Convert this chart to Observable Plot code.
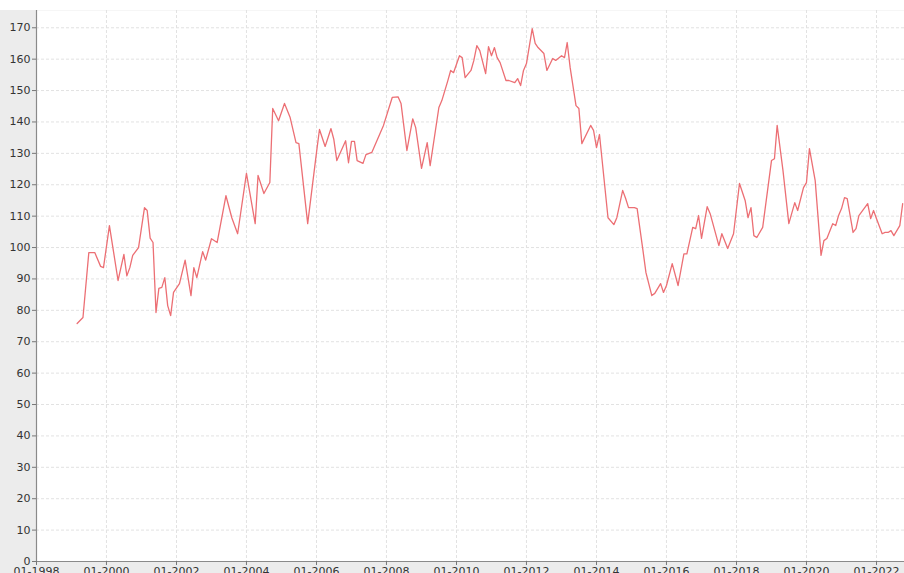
<!DOCTYPE html>
<html>
<head>
<meta charset="utf-8">
<script src="https://cdn.jsdelivr.net/npm/d3@7"></script>
<script src="https://cdn.jsdelivr.net/npm/@observablehq/plot@0.6"></script>
<style>
  html, body { margin: 0; padding: 0; background: #ececec; }
  #chart svg { display: block; }
</style>
</head>
<body>
<div id="chart"></div>
<script>
// Month of each reading (YYYY-MM) and its value
const dates = [
  "1999-03","1999-05","1999-07","1999-09","1999-11","1999-12","2000-02","2000-05","2000-07","2000-08",
  "2000-09","2000-10","2000-12","2001-02","2001-03","2001-04","2001-05","2001-06","2001-07","2001-08",
  "2001-09","2001-10","2001-11","2001-12","2002-02","2002-04","2002-06","2002-07","2002-08","2002-10",
  "2002-11","2003-01","2003-03","2003-06","2003-08","2003-10","2004-01","2004-04","2004-05","2004-07",
  "2004-09","2004-10","2004-12","2005-02","2005-04","2005-06","2005-07","2005-10","2006-01","2006-02",
  "2006-04","2006-06","2006-07","2006-08","2006-11","2006-12","2007-01","2007-02","2007-03","2007-05",
  "2007-06","2007-08","2007-12","2008-03","2008-05","2008-06","2008-08","2008-10","2008-11","2009-01",
  "2009-03","2009-04","2009-07","2009-08","2009-10","2009-11","2009-12","2010-02","2010-03","2010-04",
  "2010-06","2010-07","2010-08","2010-09","2010-11","2010-12","2011-01","2011-02","2011-03","2011-04",
  "2011-06","2011-07","2011-09","2011-10","2011-11","2011-12","2012-01","2012-03","2012-04","2012-05",
  "2012-07","2012-08","2012-10","2012-11","2013-01","2013-02","2013-03","2013-04","2013-06","2013-07",
  "2013-08","2013-11","2013-12","2014-01","2014-02","2014-05","2014-07","2014-08","2014-10","2014-11",
  "2014-12","2015-02","2015-03","2015-05","2015-06","2015-08","2015-09","2015-11","2015-12","2016-01",
  "2016-03","2016-05","2016-07","2016-08","2016-10","2016-11","2016-12","2017-01","2017-03","2017-04",
  "2017-07","2017-08","2017-10","2017-12","2018-02","2018-04","2018-05","2018-06","2018-07","2018-08",
  "2018-10","2019-01","2019-02","2019-03","2019-05","2019-07","2019-09","2019-10","2019-12","2020-01",
  "2020-02","2020-04","2020-06","2020-07","2020-08","2020-10","2020-11","2020-12","2021-01","2021-02",
  "2021-03","2021-05","2021-06","2021-07","2021-10","2021-11","2021-12","2022-01","2022-03","2022-04",
  "2022-05","2022-06","2022-07","2022-09","2022-10"
];
const values = [
  75.8, 77.7, 98.4, 98.4, 94.0, 93.6, 107.0, 89.5, 97.8, 91.0,
  93.6, 97.5, 100.0, 112.7, 111.8, 103.0, 101.6, 79.3, 87.0, 87.3,
  90.4, 81.5, 78.3, 85.7, 88.5, 96.0, 84.7, 93.6, 90.4, 98.7,
  96.0, 102.8, 101.6, 116.5, 109.5, 104.4, 123.6, 107.6, 123.0, 117.2,
  120.7, 144.3, 140.4, 145.9, 141.4, 133.4, 133.1, 107.6, 130.3, 137.6,
  132.2, 137.9, 134.4, 127.7, 134.0, 127.0, 133.8, 133.8, 127.7, 126.8,
  129.6, 130.3, 138.9, 147.8, 148.0, 145.9, 130.9, 141.0, 138.2, 125.2,
  133.4, 126.1, 144.6, 146.8, 153.0, 156.4, 155.7, 161.1, 160.5, 154.1,
  156.4, 159.6, 164.3, 162.7, 155.4, 164.0, 161.1, 163.7, 160.5, 158.9,
  153.2, 153.2, 152.5, 153.8, 151.6, 156.4, 158.6, 169.7, 165.0, 163.7,
  161.8, 156.4, 160.2, 159.6, 161.1, 160.5, 165.3, 157.3, 145.2, 144.3,
  133.1, 138.9, 137.3, 131.8, 136.0, 109.5, 107.3, 109.5, 118.2, 115.6,
  112.7, 112.7, 112.4, 99.0, 92.0, 84.7, 85.4, 88.5, 85.7, 87.9,
  94.9, 87.9, 98.0, 98.0, 106.4, 106.0, 110.2, 102.9, 113.0, 110.8,
  100.6, 104.4, 99.7, 104.4, 120.4, 115.0, 109.5, 112.7, 103.8, 103.2,
  106.4, 127.7, 128.3, 138.9, 124.5, 107.6, 114.3, 111.8, 119.1, 120.7,
  131.5, 121.3, 97.5, 102.2, 102.9, 107.6, 107.0, 110.2, 112.4, 115.9,
  115.6, 104.8, 106.0, 110.2, 114.0, 109.2, 111.8, 109.2, 104.4, 104.8,
  104.8, 105.4, 103.8, 107.0, 114.0
];
const xTickYears = [1998, 2000, 2002, 2004, 2006, 2008, 2010, 2012, 2014, 2016, 2018, 2020, 2022];
const yTicks = [0, 10, 20, 30, 40, 50, 60, 70, 80, 90, 100, 110, 120, 130, 140, 150, 160, 170];

const parseMonth = d3.utcParse("%Y-%m");
const data = dates.map((d, i) => ({date: parseMonth(d), value: values[i]}));
const xTicks = xTickYears.map(y => new Date(Date.UTC(y, 0, 1)));
const xDomain = [new Date(Date.UTC(1998, 0, 1)), new Date(Date.UTC(2022, 9, 20))];
const fmt = d3.utcFormat("%m-%Y");

const chart = Plot.plot({
  width: 904,
  height: 573,
  marginLeft: 36,
  marginRight: 0,
  marginTop: 10,
  marginBottom: 12,
  style: {
    background: "linear-gradient(to bottom, #ffffff 0px, #ffffff 10px, #ececec 10px)",
    fontFamily: "DejaVu Sans", fontSize: "11px", color: "#333"
  },
  x: {type: "utc", domain: xDomain},
  y: {domain: [0, 175.5]},
  marks: [
    Plot.frame({fill: "white", stroke: "none"}),
    Plot.gridX(xTicks, {stroke: "#e2e2e2", strokeOpacity: 1, strokeDasharray: "3,2"}),
    Plot.gridY(yTicks, {stroke: "#e2e2e2", strokeOpacity: 1, strokeDasharray: "3,2"}),
    Plot.ruleY([0], {stroke: "#8a8a8a", strokeWidth: 1.2}),
    Plot.ruleX([xDomain[0]], {stroke: "#8a8a8a", strokeWidth: 1.2}),
    Plot.axisY({ticks: yTicks, tickSize: 4, tickPadding: 2, label: null, fontSize: 11, stroke: "#777"}),
    Plot.axisX({ticks: xTicks, tickFormat: fmt, tickSize: 4, tickPadding: 2, label: null, fontSize: 11, stroke: "#777"}),
    Plot.line(data, {x: "date", y: "value", stroke: "#ec6f74", strokeWidth: 1.3})
  ]
});
document.getElementById("chart").appendChild(chart);
</script>
</body>
</html>
